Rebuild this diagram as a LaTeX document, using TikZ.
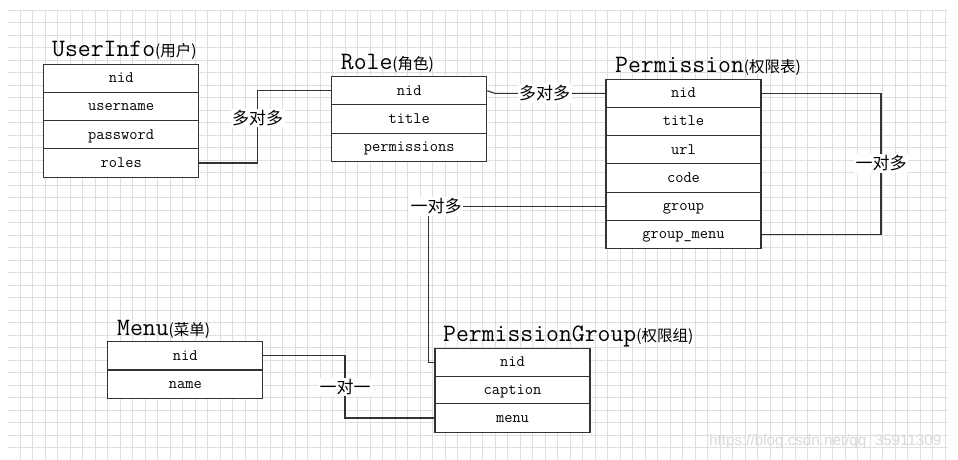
\documentclass[tikz,border=0pt]{standalone}
\usepackage{fontspec}
\newfontfamily\cjk{Noto Sans CJK SC}
\newfontfamily\wmfont{Liberation Sans}
\newcommand{\cnsub}[1]{{\cjk\fontsize{15.5}{15.5}\selectfont #1}}

\begin{document}
\begin{tikzpicture}[x=1pt,y=-1pt,
    row/.style={draw=black!80,line width=1.1pt,fill=white,minimum width=155pt,minimum height=28.2pt,
      inner sep=0pt,text height=11pt,text depth=2.5pt,font=\ttfamily\fontsize{16}{16}\selectfont},
    title/.style={anchor=base west,inner sep=0pt,font=\ttfamily\fontsize{25}{25}\selectfont},
    rel/.style={fill=white,inner sep=1.5pt,font=\cjk\fontsize{17}{17}\selectfont},
    link/.style={draw=black!80,line width=1.1pt}]
      \useasboundingbox (0,0) rectangle (958,460);
      \fill[white] (0,0) rectangle (958,460);
      \foreach \x in {0,...,74}
        \draw[gray!25,line width=.8pt] ({20+12.5*\x},10) -- ({20+12.5*\x},460);
      \foreach \y in {0,...,36}
        \draw[gray!25,line width=.8pt] (8,{10+12.5*\y}) -- (948,{10+12.5*\y});

      \node (ut) at (52,56.7) [title] {UserInfo\cnsub{(用户)}};
      \node (u-nid) at (121.2,78.4) [row] {nid};
      \node (u-name) at (121.2,106.6) [row] {username};
      \node (u-pwd) at (121.2,134.8) [row] {password};
      \node (u-roles) at (121.2,163) [row] {roles};

      \node (rt) at (340.7,70) [title] {Role\cnsub{(角色)}};
      \node (r-nid) at (409.2,90.8) [row] {nid};
      \node (r-title) at (409.2,119) [row] {title};
      \node (r-perm) at (409.2,147.2) [row] {permissions};

      \node (pt) at (615,72.3) [title] {Permission\cnsub{(权限表)}};
      \node (p-nid) at (683.5,93.4) [row] {nid};
      \node (p-title) at (683.5,121.6) [row] {title};
      \node (p-url) at (683.5,149.8) [row] {url};
      \node (p-code) at (683.5,178) [row] {code};
      \node (p-group) at (683.5,206.2) [row] {group};
      \node (p-gmenu) at (683.5,234.4) [row] {group\_menu};

      \node (mt) at (117,335) [title] {Menu\cnsub{(菜单)}};
      \node (m-nid) at (185.3,355.9) [row] {nid};
      \node (m-name) at (185.3,384.1) [row] {name};

      \node (gt) at (443,341.7) [title] {PermissionGroup\cnsub{(权限组)}};
      \node (g-nid) at (512.5,362.4) [row] {nid};
      \node (g-cap) at (512.5,390.2) [row] {caption};
      \node (g-menu) at (512.5,418) [row] {menu};

      \coordinate (c1) at (257.7,118);
      \coordinate (c2) at (495,93.4);
      \coordinate (c3) at (881,163.5);
      \coordinate (c4) at (428.3,206.2);
      \coordinate (c5) at (345,387);

      \draw[link] (u-roles.east) -| (c1) |- (r-nid.west);
      \draw[link] (r-nid.east) -- (c2) -- (p-nid.west);
      \draw[link] (p-nid.east) -| (c3) |- (p-gmenu.east);
      \draw[link] (p-group.west) -- (c4) |- (g-nid.west);
      \draw[link] (m-nid.east) -| (c5) |- (g-menu.west);

      \node (l1) at (c1) [rel] {多对多};
      \node (l2) at (544.5,93.4) [rel] {多对多};
      \node (l3) at (c3) [rel] {一对多};
      \node (l4) at (436,206.2) [rel] {一对多};
      \node (l5) at (c5) [rel] {一对一};

      \node (wm) at (709,445) [anchor=base west,inner sep=0pt,text=gray!30,
        font=\wmfont\fontsize{15.2}{15.2}\selectfont] {https://blog.csdn.net/qq\_35911309};
\end{tikzpicture}
\end{document}
